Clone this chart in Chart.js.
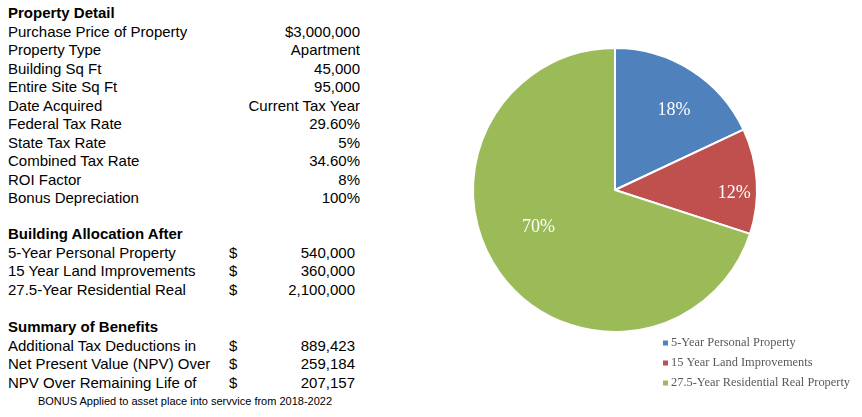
<!DOCTYPE html>
<html>
<head>
<meta charset="utf-8">
<script src="https://cdn.jsdelivr.net/npm/chart.js@4.4.1/dist/chart.umd.min.js"></script>
<style>
  html, body { margin: 0; padding: 0; background: #fff; }
  body { width: 862px; height: 417px; position: relative; overflow: hidden; font-family: "Liberation Sans", Arial, sans-serif; color: #000; }
  .row { position: absolute; left: 8px; width: 352px; height: 19px; line-height: 19px; font-size: 15px; white-space: nowrap; }
  .row.head { font-weight: bold; }
  .row .val { position: absolute; right: 0; top: 0; }
  .row .cur { position: absolute; left: 221px; top: 0; }
  .row.money .val { right: 5px; }
  #footer { position: absolute; left: 0; width: 370px; top: 395px; text-align: center; font-size: 11px; }
  #pieBox { position: absolute; left: 440px; top: 0; width: 422px; height: 417px; }
</style>
</head>
<body>
<div id="table"></div>
<div id="footer">BONUS Applied to asset place into servvice from 2018-2022</div>
<div id="pieBox"><canvas id="chart0"></canvas></div>
<script>
/** Table data **/
const propertyLabels = ["Purchase Price of Property", "Property Type", "Building Sq Ft", "Entire Site Sq Ft",
  "Date Acquired", "Federal Tax Rate", "State Tax Rate", "Combined Tax Rate", "ROI Factor", "Bonus Depreciation"];
const propertyValues = ["$3,000,000", "Apartment", "45,000", "95,000", "Current Tax Year",
  "29.60%", "5%", "34.60%", "8%", "100%"];

const allocationLabels = ["5-Year Personal Property", "15 Year Land Improvements", "27.5-Year Residential Real"];
const allocationValues = [540000, 360000, 2100000];

const benefitLabels = ["Additional Tax Deductions in", "Net Present Value (NPV) Over", "NPV Over Remaining Life of"];
const benefitValues = [889423, 259184, 207157];

/** Pie data **/
const pieLabels = ["5-Year Personal Property", "15 Year Land Improvements", "27.5-Year Residential Real Property"];
const pieColors = ["#4F81BD", "#C0504D", "#9BBB59"];

/** Build the table **/
var table = document.getElementById("table");
function addRow(top, cls, label, value, money) {
  var d = document.createElement("div");
  d.className = "row " + cls;
  d.style.top = top + "px";
  var html = "<span>" + label + "</span>";
  if (money) html += "<span class=\"cur\">$</span>";
  if (value !== undefined) html += "<span class=\"val\">" + value + "</span>";
  d.innerHTML = html;
  table.appendChild(d);
}
var step = 18.5;
addRow(3, "head", "Property Detail");
propertyLabels.forEach(function(l, i) { addRow(3 + step * (i + 1), "", l, propertyValues[i], false); });
addRow(224, "head", "Building Allocation After");
allocationLabels.forEach(function(l, i) { addRow(224 + step * (i + 1), "money", l, allocationValues[i].toLocaleString("en-US"), true); });
addRow(317, "head", "Summary of Benefits");
benefitLabels.forEach(function(l, i) { addRow(317 + step * (i + 1), "money", l, benefitValues[i].toLocaleString("en-US"), true); });

/** Percent labels inside slices **/
const sliceLabels = {
  id: "sliceLabels",
  afterDatasetsDraw: function(chart, args, opts) {
    var ctx = chart.ctx;
    var meta = chart.getDatasetMeta(0);
    var data = chart.data.datasets[0].data;
    var total = data.reduce(function(a, b) { return a + b; }, 0);
    ctx.save();
    ctx.fillStyle = "#fff";
    ctx.font = "18px 'Liberation Serif', 'Times New Roman', serif";
    ctx.textAlign = "center";
    ctx.textBaseline = "middle";
    meta.data.forEach(function(arc, i) {
      var p = arc.getProps(["x", "y", "startAngle", "endAngle", "outerRadius"], true);
      var o = opts.place[i];
      var mid = (p.startAngle + p.endAngle) / 2 + o.a * Math.PI / 180;
      var r = p.outerRadius * o.r;
      ctx.fillText(Math.round(data[i] / total * 100) + "%", p.x + Math.cos(mid) * r, p.y + Math.sin(mid) * r);
    });
    ctx.restore();
  }
};

/** Legend below right of the pie **/
const sideLegend = {
  id: "sideLegend",
  afterDraw: function(chart, args, opts) {
    var ctx = chart.ctx;
    ctx.save();
    ctx.font = "12.4px 'Liberation Serif', 'Times New Roman', serif";
    ctx.textBaseline = "middle";
    chart.data.labels.forEach(function(l, i) {
      var y = opts.top + i * opts.gap;
      ctx.fillStyle = chart.data.datasets[0].backgroundColor[i];
      ctx.fillRect(opts.left, y - 2.5, 5, 5);
      ctx.fillStyle = "#595959";
      ctx.fillText(l, opts.left + 8, y);
    });
    ctx.restore();
  }
};

var ctx = document.getElementById("chart0");
var chart = new Chart(ctx, {
  type: "pie",
  data: {
    labels: pieLabels,
    datasets: [{
      data: allocationValues,
      backgroundColor: pieColors,
      borderColor: "#fff",
      borderWidth: 2,
      hoverOffset: 0
    }]
  },
  options: {
    responsive: true,
    maintainAspectRatio: false,
    animation: false,
    events: [],
    layout: { padding: { left: 32, right: 104, top: 47, bottom: 84 } },
    plugins: {
      legend: { display: false },
      tooltip: { enabled: false },
      sliceLabels: { place: [{ r: 0.70, a: 4 }, { r: 0.84, a: 5 }, { r: 0.60, a: 10 }] },
      sideLegend: { left: 223, top: 343, gap: 20 }
    }
  },
  plugins: [sliceLabels, sideLegend]
});
</script>
</body>
</html>
